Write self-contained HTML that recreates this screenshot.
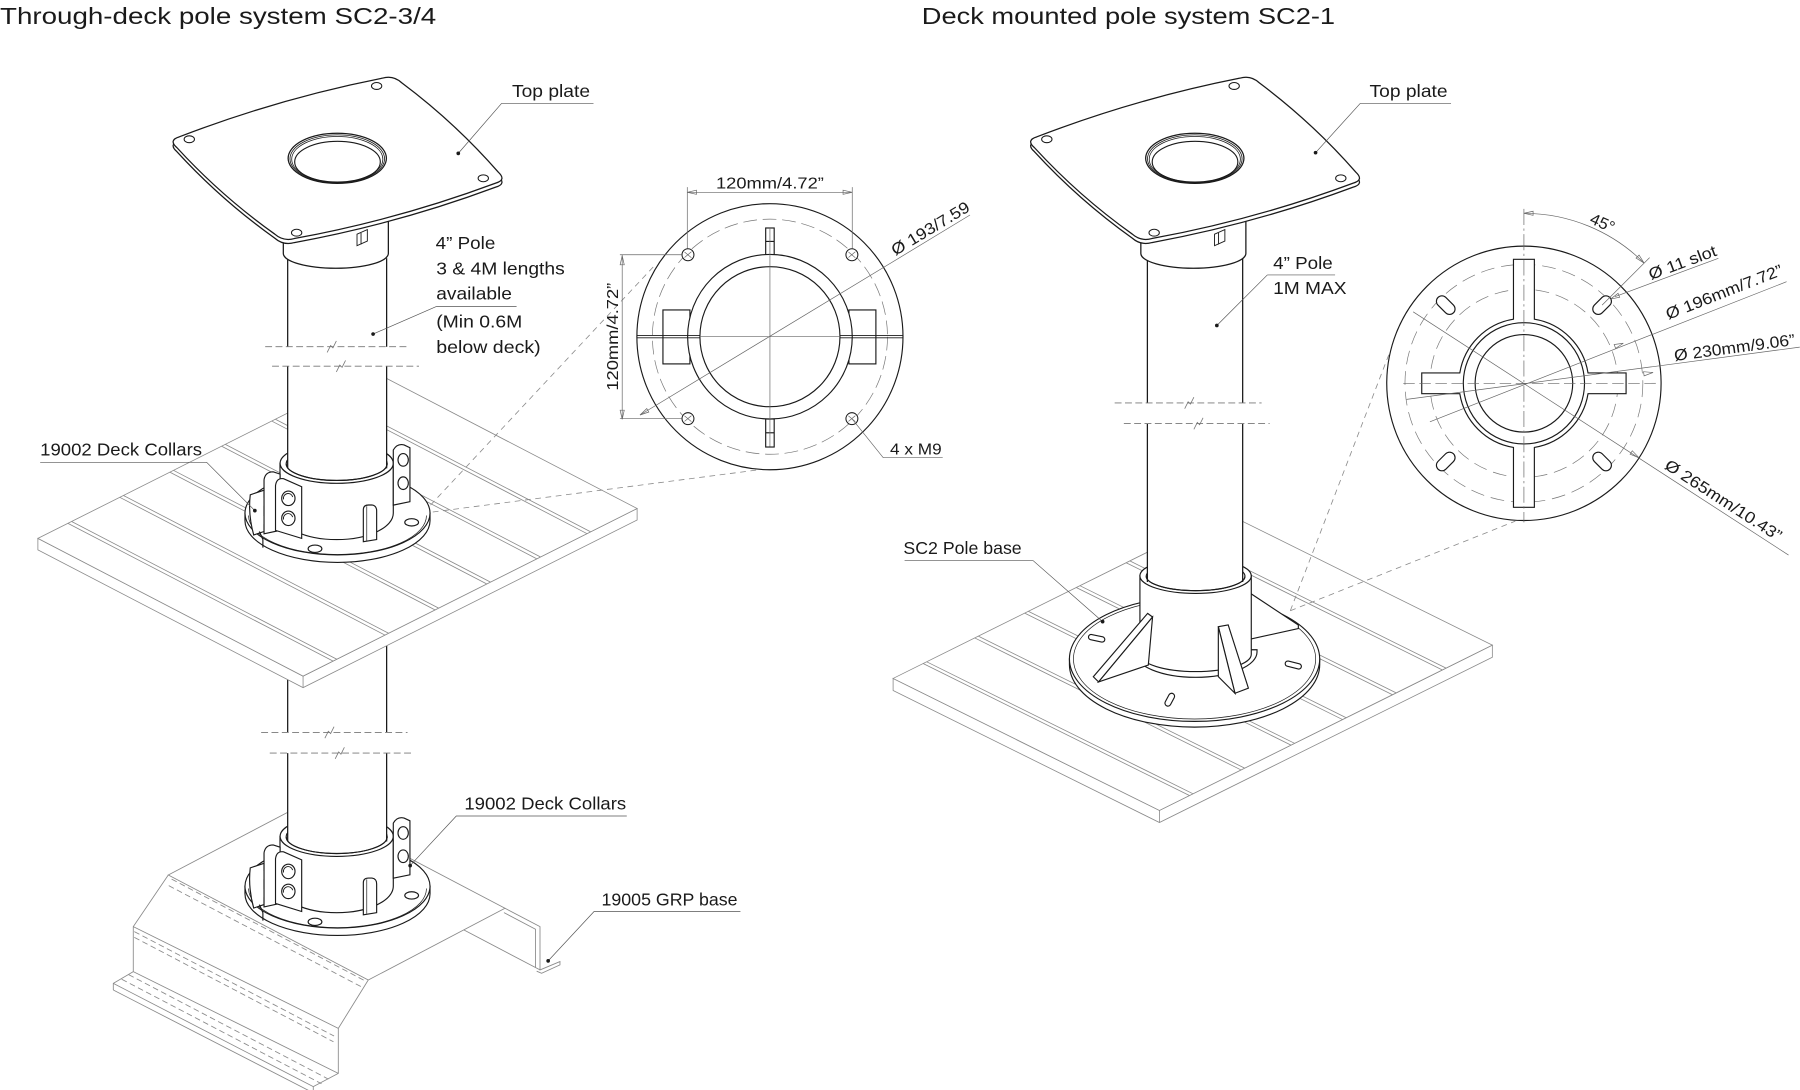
<!DOCTYPE html>
<html><head><meta charset="utf-8"><title>Pole systems</title>
<style>
html,body{margin:0;padding:0;background:#fff;width:1800px;height:1090px;overflow:hidden}
svg{display:block}
text{font-family:"Liberation Sans",Arial,sans-serif;fill:#1a1a1a}
.lb{font-size:15px}
.dm{font-size:14px}
</style></head><body>
<svg xmlns="http://www.w3.org/2000/svg" xmlns:xlink="http://www.w3.org/1999/xlink" width="1800" height="1090" viewBox="0 0 1568 949.5" preserveAspectRatio="none">
<defs>
<g id="plate">
  <path d="M246.8,198 L246.8,220.7 A45.75,13 0 0 0 338.3,220.7 L338.3,185 Z" fill="#fff" stroke="#1a1a1a" stroke-width="1.1"/>
  <path d="M311,204 L320,200 L320,210 L311,214 Z M314.5,203 L314.5,213" fill="#fff" stroke="#1a1a1a" stroke-width="0.8"/>
  <path transform="translate(0,3.5)" d="M156.2,119.2 Q242.4,86 333,68.1 Q342.6,65.3 349.9,72.1 Q396.1,106.6 434.1,150 Q441.4,156.8 431.8,159.5 Q346.2,191.4 256.4,207.8 Q246.8,210.5 239.3,203.9 Q192.7,170.7 154.1,128.6 Q146.6,122 156.2,119.2 Z" fill="#fff" stroke="#1a1a1a" stroke-width="1.1"/>
  <path d="M156.2,119.2 Q242.4,86 333,68.1 Q342.6,65.3 349.9,72.1 Q396.1,106.6 434.1,150 Q441.4,156.8 431.8,159.5 Q346.2,191.4 256.4,207.8 Q246.8,210.5 239.3,203.9 Q192.7,170.7 154.1,128.6 Q146.6,122 156.2,119.2 Z" fill="#fff" stroke="#1a1a1a" stroke-width="1.1"/>
  <g fill="#fff" stroke="#1a1a1a" stroke-width="0.9">
    <ellipse cx="164.9" cy="121.3" rx="4.5" ry="3"/>
    <ellipse cx="328.1" cy="74.9" rx="4.5" ry="3"/>
    <ellipse cx="421" cy="155.3" rx="4.5" ry="3"/>
    <ellipse cx="258.4" cy="202.7" rx="4.5" ry="3"/>
  </g>
  <g fill="none" stroke="#1a1a1a">
    <ellipse cx="293.8" cy="137.9" rx="42.8" ry="21.8" stroke-width="1.1"/>
    <ellipse cx="293.8" cy="138.3" rx="41.2" ry="20.8" stroke-width="0.7"/>
    <ellipse cx="293.8" cy="138.7" rx="39.7" ry="19.8" stroke-width="0.7"/>
    <ellipse cx="294" cy="141" rx="37.3" ry="17.9" stroke-width="1"/>
  </g>
</g>
<g id="cback" stroke="#1a1a1a" stroke-width="1" fill="#fff">
  <path d="M213.4,447 V453.5 A80.6,36.4 0 0 0 374.6,453.5 V447 Z"/>
  <ellipse cx="294" cy="447" rx="80.6" ry="36.4"/>
  <path d="M216.5,449 A77.5,34 0 0 0 371.5,449" fill="none" stroke-width="0.6"/>
  <ellipse cx="274.4" cy="478" rx="6" ry="3.2"/>
  <ellipse cx="358.6" cy="455" rx="6" ry="3.2"/>
  <ellipse cx="226" cy="444" rx="5" ry="2.8"/>
  <path d="M243.9,403.5 V447 A49.3,23 0 0 0 342.6,447 V403.5 Z"/>
  <ellipse cx="293.3" cy="403.5" rx="49.3" ry="17.5"/>
  <ellipse cx="293.3" cy="404" rx="44" ry="14.5"/>
</g>
<g id="cfront" stroke="#1a1a1a" stroke-width="1" fill="#fff">
  <path d="M249.3,404 A44,14.5 0 0 0 337.3,404" fill="none"/>
  <path d="M218,431 L230,427 L230,433 L234,432 L234,440 L230,441 L230,449 L234,448 L234,456 L230,457 L230,463 L221,466 Q216,448 218,431 Z"/>
  <path d="M230,418 Q231,411 238,411 L244,413 L244,462 L230,465 Z"/>
  <path d="M240,423 Q241,416 247,417 L262.8,424 L262.8,469 L240,462 Z"/>
  <ellipse cx="251.2" cy="434.1" rx="5.8" ry="6.3"/>
  <path d="M247,435 A4,4 0 0 1 255,433" fill="none" stroke-width="0.8"/>
  <ellipse cx="251.2" cy="451.5" rx="5.8" ry="6.3"/>
  <path d="M247,452.5 A4,4 0 0 1 255,450.5" fill="none" stroke-width="0.8"/>
  <path d="M342.6,392 Q346,386 352,387.6 L357.1,390 V437 L342.6,440 Z"/>
  <ellipse cx="351.2" cy="400.6" rx="4.5" ry="5.5"/>
  <ellipse cx="351.2" cy="420.9" rx="4.5" ry="5.5"/>
  <path d="M316.5,471.9 V444 Q316.5,439.9 321,439.9 H324 Q328.1,440.5 328.1,445 V470 Z"/>
  <path d="M319.5,441 V471" fill="none" stroke-width="0.6"/>
  <path d="M226,463 L229,470 L229,477" fill="none"/>
</g>
</defs>

<!-- Titles -->
<text x="0" y="21" font-size="20.5" textLength="380" lengthAdjust="spacingAndGlyphs">Through-deck pole system  SC2-3/4</text>
<text x="803" y="21" font-size="20.5" textLength="360" lengthAdjust="spacingAndGlyphs">Deck mounted pole system SC2-1</text>

<!-- ============ LEFT FIGURE ============ -->
<!-- GRP base -->
<g stroke="#8a8a8a" stroke-width="0.75" fill="none">
  <path d="M146.6,762.2 L265.7,699.7 L439.9,791.2 L320.8,853.7 Z" fill="#fff"/>
  <path d="M146.6,762.2 L116.1,807.2 L116.1,846.4 L98.7,856.6 L98.7,862.4"/>
  <path d="M320.8,853.7 L294.7,895.8 L294.7,935 L272.9,946.6 L272.9,952"/>
  <path d="M116.1,807.2 L294.7,895.8 M116.1,846.4 L294.7,935 M98.7,856.6 L272.9,946.6 M98.7,862.4 L272.9,952"/>
  <path d="M439.9,791.2 L470.4,807.2 L470.4,844.9 L487.8,837.6 L487.8,840.5 L471.8,847.8 L467.5,846"/>
  <path d="M404,810 L470.4,844.9 M439,795 L466.5,809.5 L466.5,843"/>
  <g stroke-dasharray="5 3">
    <path d="M149.5,765.8 L319.5,855.2 M147,771.5 L316.5,860.5 M117,811.5 L291,902.5 M117,816.5 L290.5,907.5 M112,849 L286,940 M106,853 L280,944"/>
  </g>
</g>

<!-- lower collar + pole -->
<use href="#cback" xlink:href="#cback" transform="translate(0,325)"/>
<rect x="250.6" y="555" width="86.2" height="173.5" fill="#fff"/>
<path d="M250.6,555 V638 M336.8,555 V638 M250.6,656 V733 M336.8,656 V733" stroke="#1a1a1a" stroke-width="1.1" fill="none"/>
<use href="#cfront" xlink:href="#cfront" transform="translate(0,325)"/>

<!-- upper deck -->
<g stroke="#8a8a8a" stroke-width="0.7" fill="#fff">
  <path d="M33,469 L264,589 L555,443 L555,453 L264,599 L33,479 Z"/>
  <path d="M33,469 L324,323 L555,443 L264,589 Z"/>
  <path d="M264,589 V599" fill="none"/>
  <path fill="none" d="M59.2,455.9 L290.2,575.9 M62.4,454.3 L293.4,574.3 M104.3,433.2 L335.3,553.2 M107.5,431.6 L338.5,551.6 M147.9,411.3 L378.9,531.3 M151.1,409.7 L382.1,529.7 M193.1,388.7 L424.1,508.7 M196.3,387.1 L427.3,507.1 M236.7,366.8 L467.7,486.8 M239.9,365.2 L470.9,485.2 M280.4,344.9 L511.4,464.9 M283.6,343.3 L514.6,463.3"/>
</g>

<!-- upper collar + pole -->
<use href="#cback" xlink:href="#cback"/>
<rect x="250.6" y="222" width="86.2" height="182" fill="#fff"/>
<path d="M250.6,225 V302 M336.8,225 V302 M250.6,319 V408 M336.8,319 V408" stroke="#1a1a1a" stroke-width="1.1" fill="none"/>
<use href="#cfront" xlink:href="#cfront"/>

<!-- top plate left -->
<use href="#plate" xlink:href="#plate"/>

<!-- ============ RIGHT FIGURE ============ -->
<g stroke="#8a8a8a" stroke-width="0.7" fill="#fff">
  <path d="M778,591 L1010,706 L1300,562 L1300,572.5 L1010,716.5 L778,601.5 Z"/>
  <path d="M778,591 L1068,447 L1300,562 L1010,706 Z"/>
  <path d="M1010,706 V716.5" fill="none"/>
  <path fill="none" d="M804.1,578 L1036.1,693 M807.3,576.5 L1039.3,691.5 M849.1,555.7 L1081.1,670.7 M852.2,554.1 L1084.2,669.1 M892.6,534.1 L1124.6,649.1 M895.7,532.5 L1127.7,647.5 M937.5,511.8 L1169.5,626.8 M940.7,510.2 L1172.7,625.2 M981,490.2 L1213,605.2 M984.2,488.6 L1216.2,603.6 M1024.5,468.6 L1256.5,583.6 M1027.7,467 L1259.7,582"/>
</g>

<g stroke="#1a1a1a" stroke-width="1" fill="#fff">
  <path d="M931.6,574 V579 A109,54.4 0 0 0 1149.6,579 V574 Z"/>
  <ellipse cx="1040.6" cy="574" rx="109" ry="54.4"/>
  <ellipse cx="1040.6" cy="574" rx="105.5" ry="52.3" fill="none" stroke-width="0.6"/>
  <rect x="-7.2" y="-2.3" width="14.4" height="4.6" rx="2.3" transform="translate(955.3,556) rotate(12)"/>
  <rect x="-7.2" y="-2.3" width="14.4" height="4.6" rx="2.3" transform="translate(1126.6,579.3) rotate(14)"/>
  <rect x="-6" y="-2.6" width="12" height="5.2" rx="2.6" transform="translate(1019,609.5) rotate(-62)"/>
  <path d="M1088,516 L1131,544.5 L1131,547.5 L1088,557 Z"/>
  <path d="M988,566 V568 A53.5,22 0 0 0 1095,568 V566 Z"/>
  <path d="M993,501.6 V570 A48.5,15 0 0 0 1090,570 V501.6 Z"/>
  <ellipse cx="1041.5" cy="501.6" rx="48.5" ry="15.3"/>
  <ellipse cx="1041.5" cy="502" rx="43" ry="12.5"/>
</g>
<rect x="999.5" y="222" width="83" height="280" fill="#fff"/>
<path d="M999.5,225 V351 M1082.5,225 V351 M999.5,369 V507 M1082.5,369 V507" stroke="#1a1a1a" stroke-width="1.1" fill="none"/>
<g stroke="#1a1a1a" stroke-width="1" fill="#fff">
  <path d="M998.5,502 A43,12.5 0 0 0 1084.5,502" fill="none"/>
  <path d="M999.7,534.3 L1004,537.5 L957,594 L952.4,589.5 Z"/>
  <path d="M1004,537.5 L1000.3,579.3 L957,594 Z"/>
  <path d="M1061.3,545.9 L1069.9,544.4 L1087.5,599.5 L1075.8,603.9 Z"/>
  <path d="M1061.3,545.9 L1075.8,603.9 L1061.3,589.4 Z"/>
</g>

<use href="#plate" xlink:href="#plate" transform="translate(747,0)"/>

<!-- break marks -->
<g stroke="#777" stroke-width="0.8" stroke-dasharray="6 3" fill="none">
  <path d="M231,302 H357 M237,319 H365 M227.5,638 H355 M235,656 H361 M971,351 H1099 M979,369 H1106"/>
</g>
<g stroke="#777" stroke-width="0.7" fill="none">
  <path d="M285,307 l3,-6 l2,2 l3,-6 M293,324 l3,-6 l2,2 l3,-6 M283,643 l3,-6 l2,2 l3,-6 M292,661 l3,-6 l2,2 l3,-6 M1032,356 l3,-6 l2,2 l3,-6 M1040,374 l3,-6 l2,2 l3,-6"/>
</g>

<!-- dashed connectors -->
<g stroke="#8a8a8a" stroke-width="0.7" stroke-dasharray="5 4" fill="none">
  <path d="M375,440 L569,232.6 M377,446 L670.7,408 M1124,532 L1209.8,309 M1124,532 L1320,454"/>
</g>

<!-- ============ LEFT DETAIL ============ -->
<g fill="none" stroke="#1a1a1a" stroke-width="1">
  <circle cx="670.7" cy="293.3" r="115.9" fill="#fff"/>
  <circle cx="670.7" cy="293.3" r="102.4" stroke="#777" stroke-width="0.6" stroke-dasharray="12 5"/>
  <rect x="577.5" y="270" width="23.5" height="47" fill="#fff"/>
  <rect x="739.5" y="270" width="23.5" height="47" fill="#fff"/>
  <rect x="667" y="198.6" width="7.4" height="23.4" fill="#fff"/>
  <path d="M667,210.3 H674.4"/>
  <rect x="667" y="365" width="7.4" height="24.4" fill="#fff"/>
  <path d="M667,377 H674.4"/>
  <circle cx="670.7" cy="293.3" r="71.7" fill="#fff"/>
  <circle cx="670.7" cy="293.3" r="61"/>
  <path d="M554.8,292.3 H609.7 M554.8,294.3 H609.7 M731.7,292.3 H786.6 M731.7,294.3 H786.6" stroke-width="0.8"/>
</g>
<g fill="#fff" stroke="#1a1a1a" stroke-width="0.9">
  <circle cx="599.3" cy="221.9" r="5.2"/>
  <circle cx="742.1" cy="221.9" r="5.2"/>
  <circle cx="599.3" cy="364.7" r="5.2"/>
  <circle cx="742.1" cy="364.7" r="5.2"/>
</g>
<g stroke="#666" stroke-width="0.6" fill="none">
  <path d="M596.3,219.5 l6,5 M596.3,224.3 l6,-5 M739.1,219.5 l6,5 M739.1,224.3 l6,-5 M596.3,362.3 l6,5 M596.3,367.1 l6,-5 M739.1,362.3 l6,5 M739.1,367.1 l6,-5"/>
  <path d="M670.7,198 V389 M609.7,293.3 H731.7"/>
  <path d="M598.7,163 V216.5 M742.4,163 V216.5 M598.7,167.5 H742.4"/>
  <path d="M540,221.9 H594 M540,364.7 H594 M542,221.9 V364.7"/>
  <path d="M557.5,361.5 L845,187.3"/>
  <path d="M742.1,364.7 L769.4,398.7 H821.2"/>
  <path d="M598.7,167.5 L606.7,165.7 L606.7,169.3 Z M742.4,167.5 L734.4,165.7 L734.4,169.3 Z M542,222.7 L540.2,230.7 L543.8,230.7 Z M542,365.3 L540.2,357.3 L543.8,357.3 Z M557.5,361.5 L563.4,355.9 L565.2,358.9 Z"/>
</g>
<text class="dm" x="670.7" y="164" text-anchor="middle" textLength="94" lengthAdjust="spacingAndGlyphs">120mm/4.72”</text>
<text class="dm" transform="translate(538.5,293.3) rotate(-90)" text-anchor="middle" textLength="94" lengthAdjust="spacingAndGlyphs">120mm/4.72”</text>
<text class="dm" transform="translate(780,223) rotate(-31.2)" textLength="77" lengthAdjust="spacingAndGlyphs">Ø 193/7.59</text>
<text class="dm" x="775.3" y="395.7" textLength="45" lengthAdjust="spacingAndGlyphs">4 x M9</text>

<!-- ============ RIGHT DETAIL ============ -->
<g fill="none" stroke="#1a1a1a" stroke-width="1">
  <circle cx="1327.5" cy="333.9" r="119.5" fill="#fff"/>
  <circle cx="1327.5" cy="333.9" r="103.6" stroke="#777" stroke-width="0.6" stroke-dasharray="12 6"/>
  <circle cx="1327.5" cy="333.9" r="81.9" stroke="#777" stroke-width="0.6" stroke-dasharray="12 6"/>
  <path fill="#fff" d="M1336.6,278.04 V225.9 H1318.4 V278.04 A56.6,56.6 0 0 0 1271.64,324.9 H1238.5 V342.9 H1271.64 A56.6,56.6 0 0 0 1318.4,389.76 V441.9 H1336.6 V389.76 A56.6,56.6 0 0 0 1383.36,342.9 H1416.5 V324.9 H1383.36 A56.6,56.6 0 0 0 1336.6,278.04 Z"/>
  <circle cx="1327.5" cy="333.9" r="52.8"/>
  <circle cx="1327.5" cy="333.9" r="42.5"/>
  <g fill="#fff">
    <rect x="-9.5" y="-4.8" width="19" height="9.6" rx="4.8" transform="translate(1259.4,265.8) rotate(45)"/>
    <rect x="-9.5" y="-4.8" width="19" height="9.6" rx="4.8" transform="translate(1395.6,265.8) rotate(-45)"/>
    <rect x="-9.5" y="-4.8" width="19" height="9.6" rx="4.8" transform="translate(1259.4,402) rotate(-45)"/>
    <rect x="-9.5" y="-4.8" width="19" height="9.6" rx="4.8" transform="translate(1395.6,402) rotate(45)"/>
  </g>
</g>
<g stroke="#666" stroke-width="0.6" fill="none">
  <path d="M1327.5,182 V455" stroke-dasharray="14 3 2 3"/>
  <path d="M1222.4,333.9 H1443.6" stroke-dasharray="10 4"/>
  <path d="M1231,271.6 L1558,483.5"/>
  <path d="M1225.3,347.9 L1567.8,302.4"/>
  <path d="M1245.6,367.4 L1556.3,245.4"/>
  <path d="M1406.8,258.4 L1496.9,225"/>
  <path d="M1327.5,185.8 A148.1,148.1 0 0 1 1432.2,229.2"/>
  <path d="M1395.6,265.8 L1437,224.4"/>
  <path d="M1327.5,185.8 L1335.5,184 L1335.5,187.6 Z M1432.2,229.2 L1425.2,224.8 L1427.8,222.2 Z"/>
  <path d="M1427.8,398.8 L1420,395.7 L1421.9,392.7 Z M1440,324.5 L1432.2,327.4 L1431.7,323.8 Z M1414.1,299 L1407.4,303.5 L1406.1,300.1 Z M1403,260.5 L1409.5,255.5 L1410.9,258.9 Z"/>
</g>
<text class="dm" transform="translate(1384,194) rotate(24)" textLength="22" lengthAdjust="spacingAndGlyphs">45°</text>
<text class="dm" transform="translate(1438.2,243.9) rotate(-20.4)" textLength="62" lengthAdjust="spacingAndGlyphs">Ø 11 slot</text>
<text class="dm" transform="translate(1453.3,278.5) rotate(-21.4)" textLength="108" lengthAdjust="spacingAndGlyphs">Ø 196mm/7.72”</text>
<text class="dm" transform="translate(1459,314.5) rotate(-7.6)" textLength="106" lengthAdjust="spacingAndGlyphs">Ø 230mm/9.06”</text>
<text class="dm" transform="translate(1449.2,407.7) rotate(32.9)" textLength="118" lengthAdjust="spacingAndGlyphs">Ø 265mm/10.43”</text>

<!-- ============ LABELS / LEADERS ============ -->
<g stroke="#555" stroke-width="0.6" fill="none">
  <path d="M437,90 H517 M437,90 L399.2,133.6"/>
  <path d="M1185,90 H1264 M1185,90 L1146,133"/>
  <path d="M380,267 H450 M380,267 L325,291"/>
  <path d="M1104,239.5 H1163 M1104,239.5 L1060,283.5"/>
  <path d="M35,402.7 H180 L222,444.8"/>
  <path d="M546,710.8 H397.5 L357.3,754"/>
  <path d="M645,794 H517.5 L477.5,837"/>
  <path d="M788,488.4 H900 L960.5,541.5"/>
</g>
<g fill="#1a1a1a">
  <circle cx="399.2" cy="133.6" r="1.6"/>
  <circle cx="1146" cy="133" r="1.6"/>
  <circle cx="325" cy="291" r="1.6"/>
  <circle cx="1060" cy="283.5" r="1.6"/>
  <circle cx="222" cy="444.8" r="1.6"/>
  <circle cx="357.3" cy="754" r="1.6"/>
  <circle cx="477.5" cy="837" r="1.6"/>
  <circle cx="960.5" cy="541.5" r="1.6"/>
</g>

<text class="lb" x="446" y="84.5" textLength="68" lengthAdjust="spacingAndGlyphs">Top plate</text>
<text class="lb" x="1193" y="84.5" textLength="68" lengthAdjust="spacingAndGlyphs">Top plate</text>
<text class="lb" x="379.5" y="217" textLength="52" lengthAdjust="spacingAndGlyphs">4” Pole</text>
<text class="lb" x="380" y="239" textLength="112" lengthAdjust="spacingAndGlyphs">3 &amp; 4M lengths</text>
<text class="lb" x="380" y="261" textLength="66" lengthAdjust="spacingAndGlyphs">available</text>
<text class="lb" x="380" y="285.5" textLength="75" lengthAdjust="spacingAndGlyphs">(Min 0.6M</text>
<text class="lb" x="380" y="307.5" textLength="91" lengthAdjust="spacingAndGlyphs">below deck)</text>
<text class="lb" x="1109" y="234.5" textLength="52" lengthAdjust="spacingAndGlyphs">4” Pole</text>
<text class="lb" x="1109" y="256" textLength="64" lengthAdjust="spacingAndGlyphs">1M MAX</text>
<text class="lb" x="35" y="397" textLength="141" lengthAdjust="spacingAndGlyphs">19002 Deck Collars</text>
<text class="lb" x="404.5" y="705" textLength="141" lengthAdjust="spacingAndGlyphs">19002 Deck Collars</text>
<text class="lb" x="524" y="789" textLength="118.5" lengthAdjust="spacingAndGlyphs">19005 GRP base</text>
<text class="lb" x="787" y="482.5" textLength="103" lengthAdjust="spacingAndGlyphs">SC2 Pole base</text>
</svg>
</body></html>
